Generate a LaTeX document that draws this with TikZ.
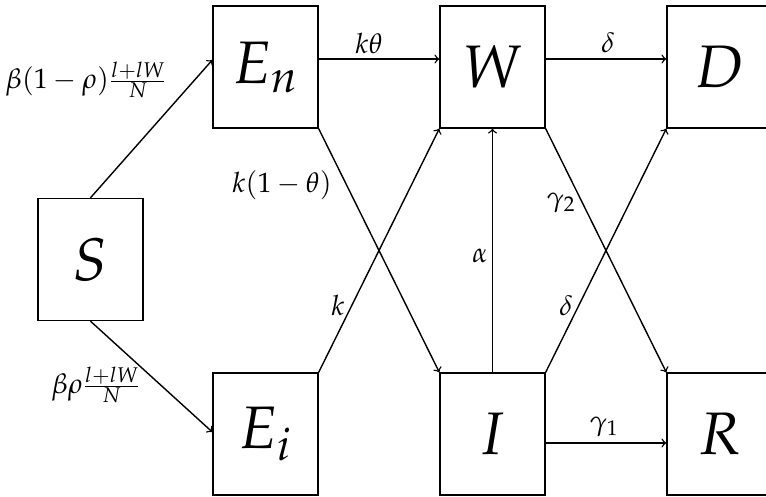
\documentclass[tikz,border=0pt]{standalone}
\usepackage{mathpazo}
\begin{document}
\begin{tikzpicture}[x=0.5pt,y=-0.5pt,
  box/.style={draw,line width=0.7pt,minimum width=52.5pt,minimum height=61pt,inner sep=0pt,font=\fontsize{30}{36}\selectfont},
  flow/.style={->,line width=0.7pt},
  lab/.style={font=\fontsize{14}{17}\selectfont,inner sep=0pt}]
\useasboundingbox (0,0) rectangle (766,497);
\node[box] (S)  at (90.5,259.5) {$S$};
\node[box] (En) at (265.5,67)   {$E_n$};
\node[box] (W)  at (492.5,67)   {$W$};
\node[box] (D)  at (719.5,67)   {$D$};
\node[box] (Ei) at (265.5,434)  {$E_i$};
\node[box] (I)  at (492.5,434)  {$I$};
\node[box] (R)  at (719.5,434)  {$R$};
\draw[flow] (S.north) -- ([yshift=3.5pt]En.west);
\draw[flow] (S.south) -- ([yshift=1pt]Ei.west);
\draw[flow] ([yshift=4pt]En.east) -- ([yshift=4pt]W.west);
\draw[flow] ([yshift=4pt]W.east) -- ([yshift=4pt]D.west);
\draw[flow] ([yshift=-4.5pt]I.east) -- ([yshift=-4.5pt]R.west);
\draw[flow] (En.south east) -- (I.north west);
\draw[flow] (Ei.north east) -- (W.south west);
\draw[flow] (W.south east) -- (R.north west);
\draw[flow] (I.north east) -- (D.south west);
\draw[flow] (I.north) -- (W.south);
\node[lab,anchor=west] (l1) at (5,80) {$\beta(1-\rho)\frac{l+lW}{N}$};
\node[lab,anchor=east] (l2) at (141,385) {$\beta\rho\frac{l+lW}{N}$};
\node[lab] (l3) at (369,43) {$k\theta$};
\node[lab] (l4) at (608,43) {$\delta$};
\node[lab] (l5) at (282,185) {$k(1-\theta)$};
\node[lab] (l6) at (338,305) {$k$};
\node[lab] (l7) at (480,256) {$\alpha$};
\node[lab] (l8) at (561,203) {$\gamma_2$};
\node[lab] (l9) at (566,306) {$\delta$};
\node[lab] (l10) at (604,427) {$\gamma_1$};
\end{tikzpicture}
\end{document}
